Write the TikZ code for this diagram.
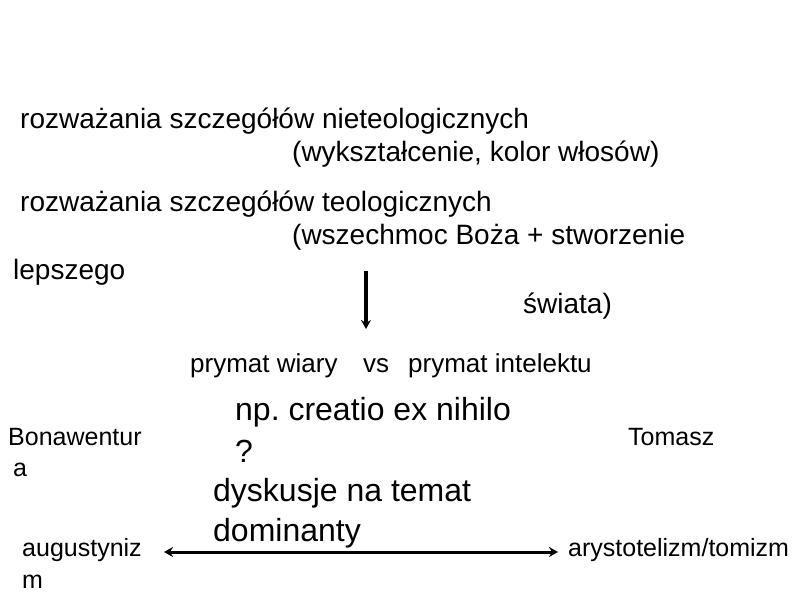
\documentclass[tikz,border=0pt]{standalone}
\usepackage{fontspec}
\setmainfont{Liberation Sans}
\usetikzlibrary{arrows.meta}
\tikzset{
  big/.style={font=\fontsize{28}{33}\selectfont, inner sep=0pt, anchor=base west},
  mid/.style={font=\fontsize{26}{30}\selectfont, inner sep=0pt, anchor=base west},
  small/.style={font=\fontsize{25}{30}\selectfont, inner sep=0pt, anchor=base west},
  huge/.style={font=\fontsize{32}{38}\selectfont, inner sep=0pt, anchor=base west},
  arr/.style={line width=3.5pt, -{Stealth[length=9pt,width=10pt]}},
  darr/.style={line width=3pt, {Stealth[length=9pt,width=10pt]}-{Stealth[length=9pt,width=10pt]}}
}
\begin{document}
\frenchspacing
\begin{tikzpicture}[x=1pt,y=-1pt]
\useasboundingbox[fill=white] (0,0) rectangle (800,600);
\node[big] (l1) at (20,128) {rozważania szczegółów nieteologicznych};
\node[big] (l2) at (292,161) {(wykształcenie, kolor włosów)};
\node[big] (l3) at (20,211) {rozważania szczegółów teologicznych};
\node[big] (l4) at (292,244) {(wszechmoc Boża + stworzenie};
\node[big] (l5) at (13,279) {lepszego};
\node[big] (l6) at (523,313) {świata)};
\node[mid] (pw) at (190,372) {prymat wiary};
\node[mid] (vs) at (363,372) {vs};
\node[mid] (pi) at (408,372) {prymat intelektu};
\node[huge] (np) at (235,420) {np. creatio ex nihilo};
\node[huge] (q) at (235,462) {?};
\node[huge] (d1) at (213,501) {dyskusje na temat};
\node[huge] (d2) at (213,541) {dominanty};
\node[small] (b1) at (8,445) {Bonawentur};
\node[small] (b2) at (13,476) {a};
\node[small] (tom) at (628,445) {Tomasz};
\node[small] (au1) at (22,556) {augustyniz};
\node[small] (au2) at (22,588) {m};
\node[small] (ary) at (568,556) {arystotelizm/tomizm};
\coordinate (a1) at (366,271);
\coordinate (a2) at (366,329);
\draw[arr] (a1) -- (a2);
\coordinate (b1l) at (164,552);
\coordinate (b1r) at (558,552);
\draw[darr] (b1l) -- (b1r);
\end{tikzpicture}
\end{document}
